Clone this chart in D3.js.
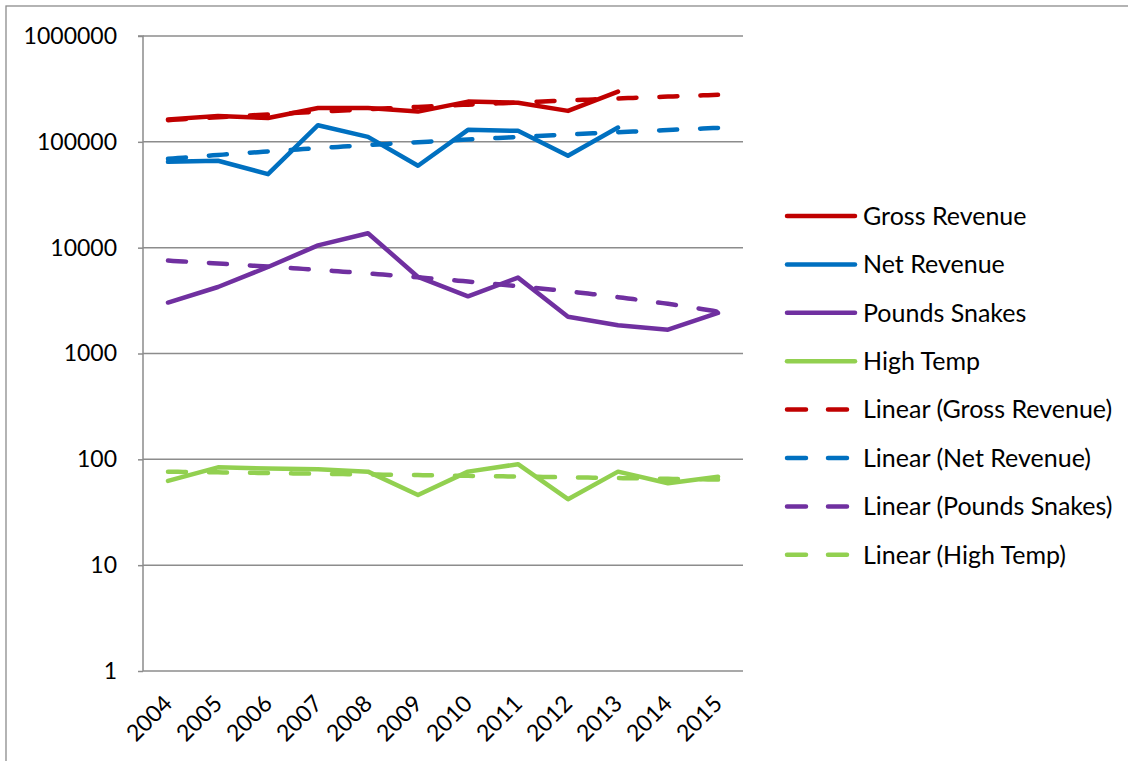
<!DOCTYPE html>
<html><head><meta charset="utf-8">
<script src="https://cdn.jsdelivr.net/npm/d3@7"></script>
<style>
body{margin:0;background:#fff;}
svg{display:block;}
text{font-family:Lato,"Open Sans",sans-serif;fill:#000;}
</style></head>
<body>
<svg id="c" width="1128" height="761"></svg>
<script>
const years = ["2004","2005","2006","2007","2008","2009","2010","2011","2012","2013","2014","2015"];
const grossRevenue = [163000,175000,168000,209000,209000,193000,240000,234000,196000,298000,null,null];
const netRevenue   = [64700,66200,49500,143600,111400,59400,129800,127000,73800,136600,null,null];
const poundsSnakes = [3030,4250,6570,10500,13700,5290,3470,5210,2220,1850,1680,2420];
const highTemp     = [62.5,84,82,80.5,76.5,46,76.5,90,42,76.5,59.4,68.6];
const yTicks = [1,10,100,1000,10000,100000,1000000];
const seriesNames = ["Gross Revenue","Net Revenue","Pounds Snakes","High Temp"];
const seriesColors = ["#C00000","#0070C0","#7030A0","#92D050"];
const seriesData = [grossRevenue, netRevenue, poundsSnakes, highTemp];

const svg = d3.select("#c");
const L = 143, R = 743, T = 36, B = 671;
const x = d3.scalePoint().domain(years).range([L, R]).padding(0.5);
const y = d3.scaleLog().domain([1, 1e6]).range([B, T]);
const xi = d3.scaleLinear().domain([1, years.length]).range([x(years[0]), x(years[years.length-1])]);

// outer chart border
svg.append("rect").attr("x",6).attr("y",6).attr("width",1140).attr("height",780)
  .attr("fill","none").attr("stroke","#8c8c8c").attr("stroke-width",1.3);

// gridlines
svg.append("g").selectAll("line").data(yTicks.slice(1)).join("line")
  .attr("x1",L).attr("x2",R).attr("y1",d=>y(d)).attr("y2",d=>y(d))
  .attr("stroke","#8c8c8c").attr("stroke-width",1.5);

// y axis
const ya = svg.append("g").attr("transform",`translate(${L},0)`)
  .call(d3.axisLeft(y).tickValues(yTicks).tickFormat(d3.format("d")).tickSize(5).tickPadding(21));
ya.select(".domain").attr("stroke","#8c8c8c").attr("stroke-width",1.5).attr("d",`M-5,${T}H0V${B}`);
ya.selectAll(".tick line").attr("stroke","#8c8c8c").attr("stroke-width",1.5);
ya.selectAll("text").attr("font-size",23).attr("font-family","Lato");

// x axis
const xa = svg.append("g").attr("transform",`translate(0,${B})`)
  .call(d3.axisBottom(x).tickSize(0).tickPadding(0));
xa.select(".domain").attr("stroke","#8c8c8c").attr("stroke-width",1.5).attr("d",`M${L},0H${R}`);
xa.selectAll("text").attr("font-size",23).attr("font-family","Lato")
  .attr("text-anchor","end").attr("dy",null).attr("y",null)
  .attr("transform","translate(1,30) rotate(-45)").attr("dominant-baseline","middle");

// series lines
const line = d3.line().defined(d=>d.v!=null).x(d=>x(d.year)).y(d=>y(d.v));
seriesData.forEach((arr,i)=>{
  svg.append("path").datum(arr.map((v,j)=>({year:years[j],v})))
    .attr("d",line).attr("fill","none").attr("stroke",seriesColors[i])
    .attr("stroke-width",4.5).attr("stroke-linejoin","round").attr("stroke-linecap","round");
});

// linear trendlines (least squares on category index, as the chart does)
function fit(arr){
  const pts = arr.map((v,j)=>[j+1,v]).filter(p=>p[1]!=null);
  const mx = d3.mean(pts,p=>p[0]), my = d3.mean(pts,p=>p[1]);
  const sxy = d3.sum(pts,p=>(p[0]-mx)*(p[1]-my)), sxx = d3.sum(pts,p=>(p[0]-mx)**2);
  const b = sxy/sxx; return t => my + b*(t-mx);
}
const tline = d3.line().x(d=>xi(d.t)).y(d=>y(d.v));
seriesData.forEach((arr,i)=>{
  const f = fit(arr);
  const samples = d3.range(1, years.length+0.001, 0.1).map(t=>({t,v:f(t)}));
  svg.append("path").datum(samples).attr("d",tline).attr("fill","none")
    .attr("stroke",seriesColors[i]).attr("stroke-width",4.5)
    .attr("stroke-dasharray","18,23").attr("stroke-linecap","round");
});

// legend
const legendItems = seriesNames.map((n,i)=>({name:n,color:seriesColors[i],dash:false}))
  .concat(seriesNames.map((n,i)=>({name:`Linear (${n})`,color:seriesColors[i],dash:true})));
const lg = svg.append("g");
legendItems.forEach((d,i)=>{
  const yy = 216 + i*48.4;
  lg.append("line").attr("x1",787).attr("x2",855).attr("y1",yy).attr("y2",yy)
    .attr("stroke",d.color).attr("stroke-width",4.5).attr("stroke-linecap","round")
    .attr("stroke-dasharray",d.dash?"19,22":null);
  lg.append("text").attr("x",863).attr("y",yy).attr("dy","0.35em")
    .attr("font-size",25).text(d.name);
});
</script>
</body></html>
